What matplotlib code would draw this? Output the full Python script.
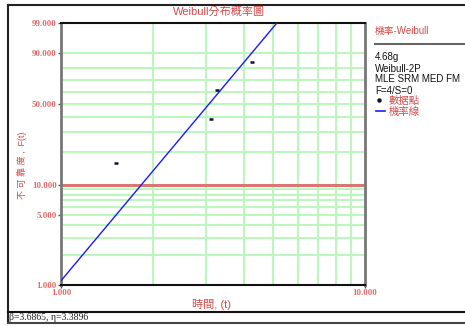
import numpy as np
import matplotlib
matplotlib.use("Agg")
import matplotlib.pyplot as plt
from matplotlib.lines import Line2D

# Failure times and median-rank unreliability (%)
times = [1.52, 3.11, 3.25, 4.25]
unrel = [15.91, 38.64, 61.36, 84.09]

# Fitted 2-parameter Weibull
beta = 3.6865
eta = 3.3896

x_ticks = [1.0, 10.0]
x_tick_labels = ["1.000", "10.000"]
y_ticks = [1.0, 5.0, 10.0, 50.0, 90.0, 99.0]
y_tick_labels = ["1.000", "5.000", "10.000", "50.000", "90.000", "99.000"]
y_grid = [2, 3, 4, 5, 6, 7, 8, 9, 10, 20, 30, 40, 50, 60, 70, 80, 90]
x_grid = [2, 3, 4, 5, 6, 7, 8, 9]

legend_lines = ["4.68g", "Weibull-2P", "MLE SRM MED FM", "F=4/S=0"]

W, H = 465, 327
RED = "#d44a4a"
TICK_RED = "#e06a6a"
GRID = "#bdf7bd"
CJK = ["Liberation Sans", "Noto Sans CJK TC", "DejaVu Sans"]

fig = plt.figure(figsize=(W / 100, H / 100), dpi=100)
fig.patch.set_facecolor("white")


def px(x0, y0, w, h):
    return [x0 / W, 1 - (y0 + h) / H, w / W, h / H]


def fwd(p):
    p = np.clip(np.asarray(p, dtype=float), 1e-6, 100 - 1e-6)
    return np.log(-np.log(1 - p / 100.0))


def inv(v):
    return 100.0 * (1 - np.exp(-np.exp(np.asarray(v, dtype=float))))


ax = fig.add_axes(px(61, 23, 304, 262))
ax.set_xscale("log")
ax.set_yscale("function", functions=(fwd, inv))
ax.set_xlim(1, 10)
ax.set_ylim(1, 99)

for g in x_grid:
    ax.axvline(g, color=GRID, lw=1.5, zorder=1)
for g in y_grid:
    if g != 10:
        ax.axhline(g, color=GRID, lw=1.5, zorder=1)
ax.axhline(10, color="#d97777", lw=2.2, zorder=2)

t = np.geomspace(1.0, 5.6, 300)
F = 100 * (1 - np.exp(-(t / eta) ** beta))
ax.plot(t, F, color="#1a1aff", lw=1.0, zorder=3)
ax.plot(times, unrel, linestyle="none", marker="_", markersize=3.5,
        markeredgewidth=1.8, color="#111133", zorder=4)

ax.set_xticks(x_ticks)
ax.set_xticklabels(x_tick_labels)
ax.set_yticks(y_ticks)
ax.set_yticklabels(y_tick_labels)
ax.xaxis.set_minor_locator(matplotlib.ticker.NullLocator())
ax.yaxis.set_minor_locator(matplotlib.ticker.NullLocator())
ax.tick_params(axis="both", length=2, width=1, color="#555555", pad=1,
               labelsize=6.5, labelcolor=TICK_RED)
for lab in ax.get_xticklabels() + ax.get_yticklabels():
    lab.set_family("Liberation Serif")
    lab.set_fontweight("bold")

for side in ("top", "bottom"):
    ax.spines[side].set_color("#111111")
    ax.spines[side].set_linewidth(1.5)
for side in ("left", "right"):
    ax.spines[side].set_color("#777777")
    ax.spines[side].set_linewidth(2)

# Title and axis labels
fig.text(219 / W, 1 - 12 / H, "Weibull分布概率圖", ha="center", va="center",
         fontsize=8, color=RED, family=CJK)
fig.text(211 / W, 1 - 304 / H, "時間, (t)", ha="center", va="center",
         fontsize=8, color=RED, family=CJK)
fig.text(22 / W, 1 - 165 / H, "不 可 靠 度 ,  F(t)", ha="center", va="center",
         rotation=90, fontsize=6.5, color=RED, family=CJK)

# Outer frame and status bar
frame = fig.add_axes([0, 0, 1, 1], facecolor="none")
frame.set_xlim(0, W)
frame.set_ylim(H, 0)
frame.axis("off")
frame.plot([7.5, W], [5, 5], color="#222222", lw=1.5)
frame.plot([7.5, 7.5], [5, 322], color="#222222", lw=1.5)
frame.plot([7.5, W], [312, 312], color="#111111", lw=1.5)
frame.plot([7.5, W], [322.5, 322.5], color="#444444", lw=1.5)
frame.plot([375, W], [44, 44], color="#666666", lw=1.5)
frame.text(9, 317.5, "β=3.6865, η=3.3896", ha="left", va="center",
           fontsize=7, color="#222222", family="Liberation Serif")

# Side legend
frame.text(375, 31, "機率-Weibull", ha="left", va="center", fontsize=7,
           color=RED, family=CJK)
for i, s in enumerate(legend_lines):
    frame.text(375, 57.5 + i * 11, s, ha="left", va="center", fontsize=7,
               color="#111111", family=CJK)
frame.plot([379], [100], marker="o", markersize=2.2, color="#111133")
frame.text(389, 101, "數据點", ha="left", va="center", fontsize=7.5,
           color=RED, family=CJK)
frame.add_line(Line2D([375.5, 385], [111, 111], color="#1a1aff", lw=1.2))
frame.text(389, 112, "機率線", ha="left", va="center", fontsize=7.5,
           color=RED, family=CJK)

fig.savefig("out.png", dpi=100, facecolor="white")
